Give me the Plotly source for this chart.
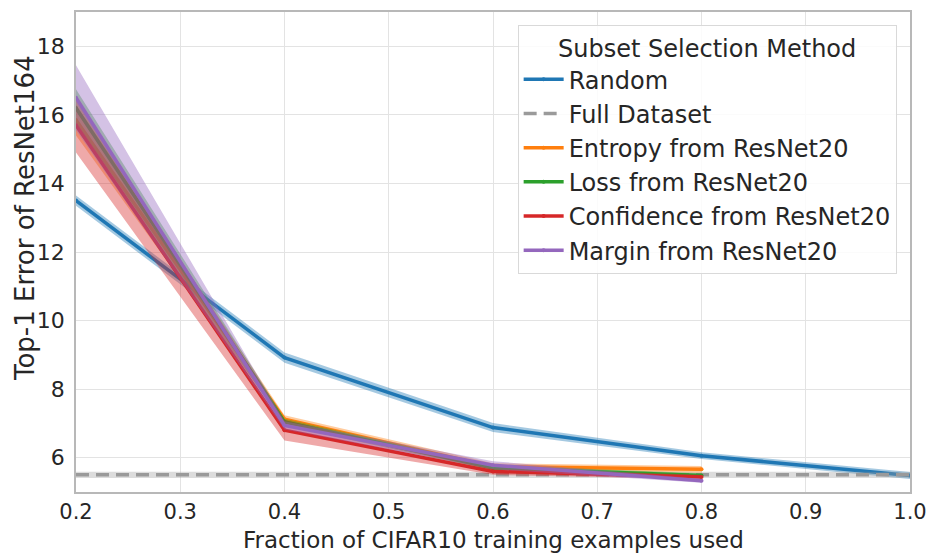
import plotly.graph_objects as go

# Fraction of the CIFAR10 training set used for each run
fractions = [0.2, 0.4, 0.6, 0.8]
fractions_random = [0.2, 0.4, 0.6, 0.8, 1.0]
fractions_full = [0.2, 1.0]

# Mean top-1 error (%) of ResNet164 and the spread around it
random_err = [13.5, 8.92, 6.88, 6.06, 5.48]
random_sd = [0.15, 0.15, 0.13, 0.1, 0.1]

full_err = [5.5, 5.5]
full_sd = [0.09, 0.09]

entropy_err = [15.85, 7.12, 5.74, 5.66]
entropy_sd = [0.45, 0.12, 0.1, 0.1]

loss_err = [16.2, 7.04, 5.7, 5.48]
loss_sd = [0.55, 0.1, 0.08, 0.07]

confidence_err = [15.7, 6.8, 5.6, 5.44]
confidence_sd = [0.8, 0.3, 0.1, 0.06]

margin_err = [16.5, 6.94, 5.78, 5.33]
margin_sd = [0.95, 0.12, 0.12, 0.06]

series = [
    ("Random", fractions_random, random_err, random_sd, "#1f77b4", "solid", True),
    ("Full Dataset", fractions_full, full_err, full_sd, "#9a9a9a", "dash", False),
    ("Entropy from ResNet20", fractions, entropy_err, entropy_sd, "#ff7f0e", "solid", True),
    ("Loss from ResNet20", fractions, loss_err, loss_sd, "#2ca02c", "solid", True),
    ("Confidence from ResNet20", fractions, confidence_err, confidence_sd, "#d62728", "solid", True),
    ("Margin from ResNet20", fractions, margin_err, margin_sd, "#9467bd", "solid", True),
]


def rgba(hex_color, alpha):
    h = hex_color.lstrip("#")
    r, g, b = int(h[0:2], 16), int(h[2:4], 16), int(h[4:6], 16)
    return f"rgba({r},{g},{b},{alpha})"


fig = go.Figure()

for name, xs, ys, sd, color, dash, dots in series:
    upper = [y + s for y, s in zip(ys, sd)]
    lower = [y - s for y, s in zip(ys, sd)]
    # shaded spread band
    fig.add_trace(go.Scatter(
        x=list(xs) + list(xs)[::-1],
        y=upper + lower[::-1],
        mode="lines",
        fill="toself",
        fillcolor=rgba(color, 0.4 if dash == "solid" else 0.35),
        line=dict(width=0, color=rgba(color, 0)),
        hoverinfo="skip",
        showlegend=False,
    ))
    # mean curve
    fig.add_trace(go.Scatter(
        x=xs, y=ys, name=name,
        mode="lines+markers" if dots else "lines",
        line=dict(color=color, width=3.5, dash="13px,7px" if dash == "dash" else "solid"),
        marker=dict(size=4, color=color),
    ))

font = "DejaVu Sans, sans-serif"
text_color = "#262626"
invisible = "rgba(0,0,0,0)"

fig.update_layout(
    width=929, height=554,
    margin=dict(l=76, r=19, t=12, b=62, autoexpand=False),
    paper_bgcolor="white",
    plot_bgcolor="white",
    font=dict(family=font, color=text_color, size=22),
    legend=dict(
        title=dict(text="Subset Selection Method", side="top center",
                   font=dict(size=24, color=text_color)),
        font=dict(size=24, color=text_color),
        x=0.984, y=0.973, xanchor="right", yanchor="top",
        bgcolor="rgba(255,255,255,0.85)",
        bordercolor="#d9d9d9", borderwidth=1,
        itemwidth=40,
        tracegroupgap=0,
    ),
    xaxis=dict(
        range=[0.2, 1.0],
        tickvals=[0.2, 0.3, 0.4, 0.5, 0.6, 0.7, 0.8, 0.9, 1.0],
        tickformat=".1f",
        tickfont=dict(size=21),
        showgrid=True, gridcolor="#e3e3e3", gridwidth=1,
        showline=True, linecolor="#b8b8b8", linewidth=1.5, mirror=True,
        zeroline=False, automargin=False,
        ticks="",
    ),
    yaxis=dict(
        range=[5.0, 19.0],
        tickvals=[6, 8, 10, 12, 14, 16, 18],
        tickfont=dict(size=22),
        showgrid=True, gridcolor="#e3e3e3", gridwidth=1,
        showline=True, linecolor="#b8b8b8", linewidth=1.5, mirror=True,
        zeroline=False, automargin=False,
        ticks="outside", ticklen=5, tickcolor=invisible,
    ),
    annotations=[
        dict(
            text="Top-1 Error of ResNet164",
            xref="paper", yref="paper", x=-0.061, y=0.571,
            xanchor="center", yanchor="middle",
            textangle=-90, showarrow=False,
            font=dict(size=26, color=text_color, family=font),
        ),
        dict(
            text="Fraction of CIFAR10 training examples used",
            xref="paper", yref="paper", x=0.5, y=-0.1,
            xanchor="center", yanchor="middle",
            showarrow=False,
            font=dict(size=23, color=text_color, family=font),
        ),
    ],
)

fig.write_html("out.html")
